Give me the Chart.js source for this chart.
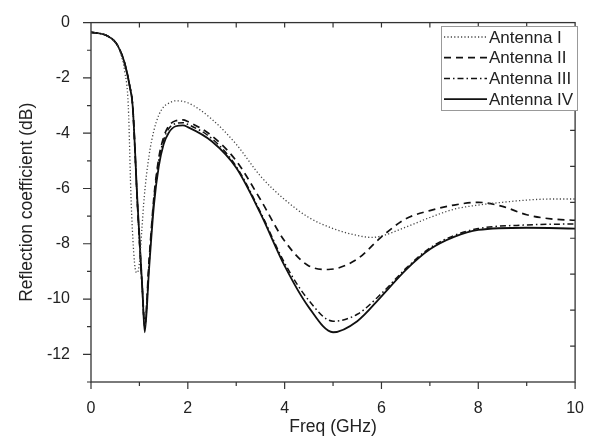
<!DOCTYPE html>
<html>
<head>
<meta charset="utf-8">
<script src="https://cdn.jsdelivr.net/npm/chart.js@4.4.1/dist/chart.umd.min.js"></script>
<style>
  html, body { margin: 0; padding: 0; background: #fff; }
  #wrap { width: 593px; height: 441px; }
</style>
</head>
<body>
<div id="wrap"><canvas id="grafico" width="593" height="441"></canvas></div>
<script>
// Datos (frecuencia en GHz, coeficiente en dB)
const freqI = [0, 0.3, 0.5, 0.6, 0.7, 0.77, 0.83, 0.9, 0.95, 1.0, 1.05, 1.1, 1.2, 1.3, 1.4, 1.5, 1.6, 1.75, 2.0, 2.5, 3.0, 3.5, 4.0, 4.5, 5.0, 5.5, 5.8, 6.0, 6.5, 7.0, 7.5, 8.0, 8.5, 9.0, 9.5, 10];
const lossI = [-0.35, -0.45, -0.72, -1.05, -1.8, -3.0, -6.5, -8.7, -9.05, -8.7, -7.5, -6.3, -4.8, -3.9, -3.35, -3.05, -2.92, -2.83, -2.9, -3.5, -4.4, -5.55, -6.4, -7.05, -7.45, -7.7, -7.77, -7.72, -7.4, -7.05, -6.75, -6.6, -6.5, -6.42, -6.38, -6.38];

const freqII = [0, 0.3, 0.5, 0.6, 0.7, 0.8, 0.86, 0.96, 1.06, 1.11, 1.2, 1.3, 1.4, 1.5, 1.6, 1.75, 1.9, 2.0, 2.5, 3.0, 3.5, 4.0, 4.5, 4.9, 5.5, 6.0, 6.5, 7.0, 7.5, 8.0, 8.5, 9.0, 9.5, 10];
const lossII = [-0.35, -0.45, -0.7, -1.0, -1.5, -2.3, -3.0, -6.6, -9.6, -10.9, -8.6, -6.3, -4.9, -4.15, -3.75, -3.55, -3.52, -3.58, -4.1, -5.0, -6.4, -7.9, -8.8, -8.93, -8.55, -7.75, -7.1, -6.8, -6.6, -6.5, -6.65, -6.95, -7.1, -7.15];

const freqIII = [0, 0.3, 0.5, 0.6, 0.7, 0.8, 0.86, 0.96, 1.06, 1.11, 1.2, 1.3, 1.4, 1.5, 1.6, 1.75, 1.9, 2.0, 2.5, 3.0, 3.5, 4.0, 4.5, 5.0, 5.5, 6.0, 6.5, 7.0, 7.5, 8.0, 9.0, 10];
const lossIII = [-0.35, -0.45, -0.7, -1.0, -1.5, -2.3, -3.0, -6.6, -9.7, -11.0, -8.7, -6.4, -5.0, -4.25, -3.85, -3.65, -3.62, -3.68, -4.2, -5.2, -6.85, -8.7, -10.05, -10.8, -10.55, -9.8, -8.9, -8.15, -7.7, -7.45, -7.32, -7.28];

const freqIV = [0, 0.3, 0.5, 0.6, 0.7, 0.8, 0.86, 0.96, 1.06, 1.11, 1.2, 1.3, 1.4, 1.5, 1.6, 1.75, 1.9, 2.0, 2.5, 3.0, 3.5, 4.0, 4.5, 5.0, 5.5, 6.0, 6.5, 7.0, 7.5, 8.0, 9.0, 10];
const lossIV = [-0.35, -0.45, -0.7, -1.0, -1.5, -2.3, -3.0, -6.5, -9.6, -11.2, -8.9, -6.6, -5.2, -4.4, -4.0, -3.75, -3.72, -3.78, -4.3, -5.25, -6.9, -8.8, -10.3, -11.2, -10.8, -9.9, -8.95, -8.2, -7.75, -7.5, -7.42, -7.45];

const nombres = ['Antenna I', 'Antenna II', 'Antenna III', 'Antenna IV'];

// Ticks de los ejes
const xTicks = [0, 2, 4, 6, 8, 10];
const xMinor = [1, 3, 5, 7, 9];
const yTicks = [0, -2, -4, -6, -8, -10, -12];
const yMinor = [-1, -3, -5, -7, -9, -11, -13];

const fuente = "'Liberation Sans', Arial, sans-serif";
const colorTexto = '#222';

function puntos(xs, ys) {
    return xs.map((x, i) => ({ x: x, y: ys[i] }));
}

const estilos = [
    { color: '#444', width: 1.3, dash: [1.2, 2.2] },
    { color: '#111', width: 1.7, dash: [7, 5] },
    { color: '#111', width: 1.5, dash: [6, 3, 1.5, 3] },
    { color: '#111', width: 1.8, dash: [] }
];

const series = [
    puntos(freqI, lossI),
    puntos(freqII, lossII),
    puntos(freqIII, lossIII),
    puntos(freqIV, lossIV)
];

const datasets = series.map((d, i) => ({
    label: nombres[i],
    data: d,
    borderColor: estilos[i].color,
    borderWidth: estilos[i].width,
    borderDash: estilos[i].dash,
    pointRadius: 0,
    fill: false,
    cubicInterpolationMode: 'monotone'
}));

// Plugin: marco, marcas de los ejes y leyenda dentro del gráfico
const marcoYLeyenda = {
    id: 'marcoYLeyenda',
    afterDatasetsDraw(chart) {
        const ctx = chart.ctx;
        const a = chart.chartArea;
        const sx = chart.scales.x;
        const sy = chart.scales.y;
        ctx.save();
        ctx.setLineDash([]);
        ctx.strokeStyle = '#333';
        ctx.lineWidth = 1.3;
        ctx.strokeRect(a.left, a.top, a.right - a.left, a.bottom - a.top);

        ctx.lineWidth = 1.2;
        ctx.beginPath();
        // abajo, hacia afuera
        xTicks.forEach(v => { const p = sx.getPixelForValue(v); ctx.moveTo(p, a.bottom); ctx.lineTo(p, a.bottom + 7); });
        xMinor.forEach(v => { const p = sx.getPixelForValue(v); ctx.moveTo(p, a.bottom); ctx.lineTo(p, a.bottom + 4); });
        // izquierda, hacia afuera
        yTicks.forEach(v => { const p = sy.getPixelForValue(v); ctx.moveTo(a.left, p); ctx.lineTo(a.left - 8, p); });
        yMinor.forEach(v => { const p = sy.getPixelForValue(v); ctx.moveTo(a.left, p); ctx.lineTo(a.left - 4, p); });
        // arriba y derecha, hacia adentro (10 divisiones)
        for (let k = 1; k < 10; k++) {
            const px = a.left + (a.right - a.left) * k / 10;
            ctx.moveTo(px, a.top); ctx.lineTo(px, a.top + 5);
            const py = a.top + (a.bottom - a.top) * k / 10;
            ctx.moveTo(a.right, py); ctx.lineTo(a.right - 5, py);
        }
        ctx.stroke();

        // leyenda
        const lx = 441, ly = 26, lw = 136, lh = 84;
        ctx.fillStyle = '#fff';
        ctx.fillRect(lx, ly, lw, lh);
        ctx.strokeStyle = '#999';
        ctx.lineWidth = 1;
        ctx.strokeRect(lx + 0.5, ly + 0.5, lw, lh);
        ctx.font = '17px ' + fuente;
        ctx.textBaseline = 'middle';
        ctx.textAlign = 'left';
        nombres.forEach((n, i) => {
            const yy = ly + 11 + i * 20.7;
            ctx.strokeStyle = estilos[i].color;
            ctx.lineWidth = estilos[i].width;
            ctx.setLineDash(estilos[i].dash);
            ctx.beginPath();
            ctx.moveTo(lx + 3, yy);
            ctx.lineTo(lx + 46, yy);
            ctx.stroke();
            ctx.setLineDash([]);
            ctx.fillStyle = colorTexto;
            ctx.fillText(n, lx + 48, yy + 1);
        });
        ctx.restore();
    }
};

new Chart(document.getElementById('grafico'), {
    type: 'line',
    data: { datasets: datasets },
    plugins: [marcoYLeyenda],
    options: {
        responsive: false,
        animation: false,
        layout: { padding: { top: 15, right: 10, left: 0, bottom: 0 } },
        plugins: { legend: { display: false }, tooltip: { enabled: false } },
        scales: {
            x: {
                type: 'linear',
                min: 0,
                max: 10,
                grid: { display: false },
                border: { display: false },
                afterBuildTicks: (s) => { s.ticks = xTicks.map(v => ({ value: v })); },
                afterFit: (s) => { s.height = 59; },
                ticks: { padding: 9, color: colorTexto, font: { family: fuente, size: 16 } },
                title: { display: true, text: 'Freq (GHz)', color: colorTexto, font: { family: fuente, size: 17.5 }, padding: { top: 0, bottom: 3 } }
            },
            y: {
                type: 'linear',
                min: -13,
                max: 0,
                grid: { display: false },
                border: { display: false },
                afterBuildTicks: (s) => { s.ticks = yTicks.map(v => ({ value: v })); },
                afterFit: (s) => { s.width = 91; },
                ticks: { padding: 13, color: colorTexto, font: { family: fuente, size: 16 } },
                title: { display: true, text: 'Reflection coefficient (dB)', color: colorTexto, font: { family: fuente, size: 17.5 }, padding: { top: 17, bottom: 0 } }
            }
        }
    }
});
</script>
</body>
</html>
